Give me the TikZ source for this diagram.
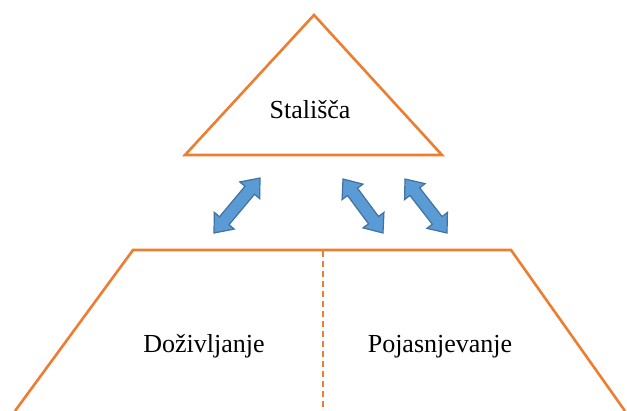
\documentclass[tikz,border=0pt]{standalone}
\usepackage{fontspec}
\setmainfont{Liberation Serif}
\usetikzlibrary{calc}
\definecolor{edgeorange}{HTML}{ED7D31}
\definecolor{arrowfill}{HTML}{5B9BD5}
\definecolor{arrowedge}{HTML}{41719C}
\tikzset{
  outline/.style={draw=edgeorange, line width=2.6pt, line join=miter},
  divider/.style={draw=edgeorange, line width=1.1pt, dash pattern=on 6pt off 4pt},
  label/.style={font=\fontsize{26}{30}\selectfont, anchor=base, inner sep=0pt},
  blockarrow/.style={fill=arrowfill, draw=arrowedge, line width=1.2pt, line join=miter}
}
% two-headed block arrow between two named tip coordinates
\newcommand\twoheaded[2]{%
  \coordinate (#1h) at ($(#1)!16pt!(#2)$);
  \coordinate (#2h) at ($(#2)!16pt!(#1)$);
  \draw[blockarrow] (#1)
    -- ($(#1h)!13pt!90:(#1)$) -- ($(#1h)!6.2pt!90:(#1)$)
    -- ($(#2h)!6.2pt!-90:(#2)$) -- ($(#2h)!13pt!-90:(#2)$)
    -- (#2)
    -- ($(#2h)!13pt!90:(#2)$) -- ($(#2h)!6.2pt!90:(#2)$)
    -- ($(#1h)!6.2pt!-90:(#1)$) -- ($(#1h)!13pt!-90:(#1)$)
    -- cycle;}
\begin{document}
\begin{tikzpicture}[x=1pt, y=-1pt]
  \useasboundingbox (0,0) rectangle (627,410);
  \clip (0,0) rectangle (627,410);

  % top triangle
  \coordinate (apex) at (314,15);
  \coordinate (tl) at (185,155);
  \coordinate (tr) at (442,155);
  \draw[outline] (apex) -- (tr) -- (tl) -- cycle;
  \node[label] (stalisca) at (310,118) {Stališča};

  % lower trapezoid, open at the bottom
  \coordinate (bl) at (15,411);
  \coordinate (ul) at (133,250);
  \coordinate (ur) at (511,250);
  \coordinate (br) at (625,411);
  \draw[outline] (bl) -- (ul) -- (ur) -- (br);
  \coordinate (dtop) at (323,251);
  \coordinate (dbot) at (323,411);
  \draw[divider] (dtop) -- (dbot);
  \node[label] (dozivljanje) at (204,352) {Doživljanje};
  \node[label] (pojasnjevanje) at (440,352) {Pojasnjevanje};

  % arrows between the two parts
  \coordinate (a1) at (214,233);
  \coordinate (b1) at (260,178);
  \twoheaded{a1}{b1}
  \coordinate (a2) at (343,179);
  \coordinate (b2) at (383,233);
  \twoheaded{a2}{b2}
  \coordinate (a3) at (405,179);
  \coordinate (b3) at (447,233);
  \twoheaded{a3}{b3}
\end{tikzpicture}
\end{document}
